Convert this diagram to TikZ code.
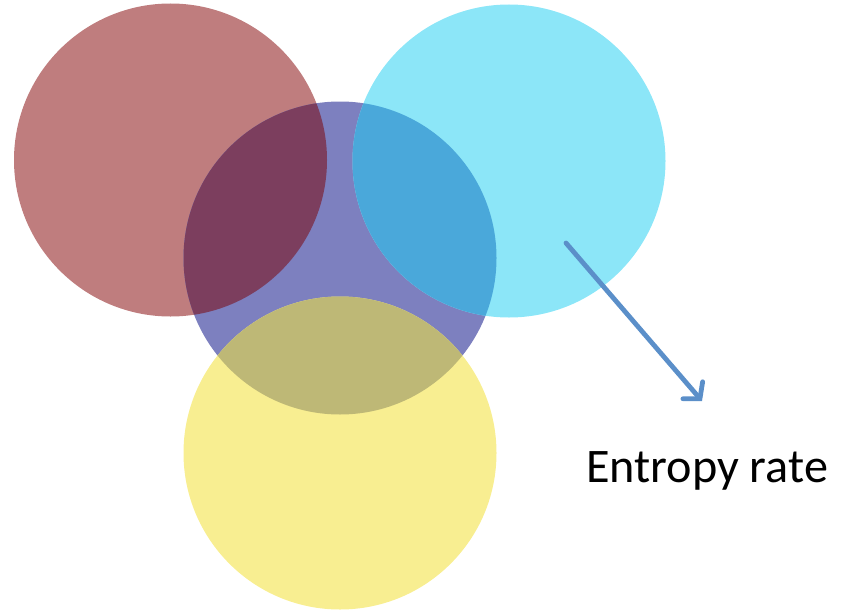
\documentclass[tikz,border=0pt]{standalone}
\usepackage{fontspec}
\setmainfont{Carlito}
\usetikzlibrary{arrows.meta}
\definecolor{redc}{HTML}{BF7D7E}
\definecolor{bluec}{HTML}{7D80BF}
\definecolor{cyanc}{HTML}{8CE6F8}
\definecolor{yellowc}{HTML}{F8EE91}
\definecolor{redblue}{HTML}{7C3E5E}
\definecolor{bluecyan}{HTML}{4AA8DA}
\definecolor{blueyellow}{HTML}{BEB876}
\definecolor{arrowc}{HTML}{5B8FC9}
\begin{document}
\begin{tikzpicture}[x=1pt,y=-1pt,
  arrowline/.style={draw=arrowc,line width=4.8pt,line cap=round,-{Straight Barb[length=11pt,width=26pt,line cap=round]}},
  label/.style={font=\fontsize{48.2}{58}\selectfont,inner sep=0pt,anchor=base west}]
\useasboundingbox (0,0) rectangle (843,610);
\def\R{156.5}
\coordinate (cr) at (170.5,160);
\coordinate (cb) at (340,258);
\coordinate (cc) at (509,161);
\coordinate (cy) at (340,453);
\fill[redc] (cr) circle (\R);
\fill[bluec] (cb) circle (\R);
\fill[cyanc] (cc) circle (\R);
\fill[yellowc] (cy) circle (\R);
\begin{scope}
  \clip (cb) circle (\R);
  \fill[redblue] (cr) circle (\R);
  \fill[bluecyan] (cc) circle (\R);
  \fill[blueyellow] (cy) circle (\R);
\end{scope}
\coordinate (a1) at (566,243);
\coordinate (a2) at (702,401);
\draw[arrowline] (a1) -- (a2);
\node[label] (t) at (586,482) {Entropy rate};
\end{tikzpicture}
\end{document}
